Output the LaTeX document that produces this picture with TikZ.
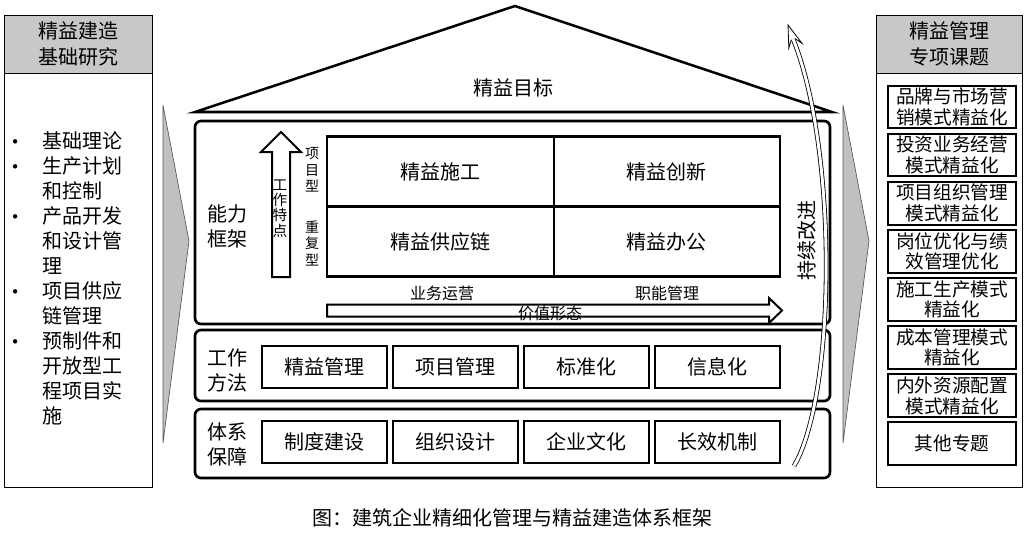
\documentclass[tikz,border=0pt]{standalone}
\usepackage{fontspec}
\setmainfont{Noto Sans CJK SC}
\usetikzlibrary{positioning,fit}
\definecolor{ink}{HTML}{000000}
\definecolor{headgray}{HTML}{C8C8C8}
\definecolor{chevgray}{HTML}{C0C0C0}
\definecolor{chevline}{HTML}{595959}
\tikzset{
  sidebox/.style={draw=ink,line width=0.6pt,minimum width=111pt,minimum height=354pt,inner sep=0pt},
  headbox/.style={draw=ink,fill=headgray,line width=0.6pt,
                  minimum width=111pt,minimum height=43.5pt,
                  align=center,font=\fontsize{15}{20}\selectfont,inner sep=0pt},
  topicbox/.style={draw=ink,line width=1.5pt,
                   minimum width=96pt,minimum height=32pt,
                   align=center,font=\fontsize{14}{15.5}\selectfont,inner sep=0pt},
  framebox/.style={draw=ink,line width=2pt,rounded corners=4.5pt,inner sep=0pt},
  cellbox/.style={draw=ink,line width=1.6pt,outer sep=0pt,
                  minimum width=170pt,minimum height=52.5pt,
                  font=\fontsize{15}{18}\selectfont},
  methodbox/.style={draw=ink,line width=1.5pt,
                    minimum width=93.75pt,minimum height=31.5pt,
                    font=\fontsize{15}{18}\selectfont},
  rowlabel/.style={align=center,font=\fontsize{15}{18.75}\selectfont,inner sep=0pt},
  smalltext/.style={font=\fontsize{12}{14}\selectfont,inner sep=0pt},
  stacktext/.style={align=center,font=\fontsize{10.5}{12.4}\selectfont,inner sep=0pt},
  blockarr/.style={draw=ink,line width=1.5pt,fill=white,line join=miter},
  chevron/.style={draw=chevline,fill=chevgray,line width=0.5pt}
}
\newcommand{\dotmark}{\raisebox{3pt}{\fontsize{8}{8}\selectfont$\bullet$}}

\begin{document}
\begin{tikzpicture}[x=0.75pt,y=-0.75pt]
  \useasboundingbox (0,0) rectangle (1027,537);

  % left column: research basis
  \node[sidebox,anchor=north] (basis) at (78,15) {};
  \node[headbox] (basishead) at (78,44) {精益建造\\基础研究};
  \node[anchor=north west,inner sep=0pt,font=\fontsize{15}{18.75}\selectfont] (basislist) at (12,130.5) {%
    \begin{tabular}{@{}p{23pt}@{}l@{}}
      \dotmark & 基础理论\\
      \dotmark & 生产计划\\
               & 和控制\\
      \dotmark & 产品开发\\
               & 和设计管\\
               & 理\\
      \dotmark & 项目供应\\
               & 链管理\\
      \dotmark & 预制件和\\
               & 开放型工\\
               & 程项目实\\
               & 施
    \end{tabular}};
  \draw[chevron] (163,105) -- (189,241) -- (163,443) -- cycle;

  % roof
  \draw[line width=1.9pt,line join=miter] (195,112) -- (515,6) -- (832,112) -- cycle;
  \node[rowlabel] (goal) at (513,88) {精益目标};

  % three floors
  \node[framebox,fit={(195,121) (830,324)}] (ability) {};
  \node[framebox,fit={(195,330) (830,401)}] (method) {};
  \node[framebox,fit={(195,409) (830,478)}] (support) {};
  \node[rowlabel] (abilitylabel) at (227,226) {能力\\框架};
  \node[rowlabel] (methodlabel) at (227,370.5) {工作\\方法};
  \node[rowlabel] (supportlabel) at (227,444.5) {体系\\保障};

  % work character arrow
  \draw[blockarr] (272,277) -- (272,152) -- (261,152) -- (281,132) -- (301,152)
                  -- (290,152) -- (290,277) -- cycle;
  \node[stacktext,font=\fontsize{11}{11.6}\selectfont] (workchar) at (280,208.5) {工\\作\\特\\点};
  \node[stacktext] (projtype) at (312,170) {项\\目\\型};
  \node[stacktext] (reptype) at (312,243) {重\\复\\型};

  % capability grid
  \node[cellbox] (construction) at (440.25,171.5) {精益施工};
  \node[cellbox,right=0pt of construction] (innovation) {精益创新};
  \node[cellbox,below=0pt of construction] (supply) {精益供应链};
  \node[cellbox,right=0pt of supply] (office) {精益办公};

  % value arrow
  \draw[blockarr] (327,304.5) -- (769,304.5) -- (769,298) -- (782,310.5) -- (769,323)
                  -- (769,316.5) -- (327,316.5) -- cycle;
  \node[smalltext] (business) at (442,293) {业务运营};
  \node[smalltext] (function) at (667,293) {职能管理};
  \node[smalltext] (valueform) at (550,313) {价值形态};

  % methods and guarantees
  \foreach \txt [count=\i] in {精益管理,项目管理,标准化,信息化}
    \node[methodbox] (method\i) at ({324.5+131*(\i-1)},367) {\txt};
  \foreach \txt [count=\i] in {制度建设,组织设计,企业文化,长效机制}
    \node[methodbox] (support\i) at ({324.5+131*(\i-1)},441.5) {\txt};

  % continuous improvement loop
  \node[rowlabel,rotate=90] (improve) at (807,240) {持续改进};
  \coordinate (tail) at (794,466);
  \coordinate (neck) at (793.1,39.1);
  \draw[line width=0.6pt,double=white,double distance=2.2pt]
    (tail) .. controls (836,395) and (838,150) .. (neck);
  \fill[white] (788,25) -- (802,43.3) -- (794.9,38.5) -- (791.3,39.7) -- (788.8,48.1) -- cycle;
  \draw[line width=0.6pt,line join=miter]
    (794.9,38.5) -- (802,43.3) -- (788,25) -- (788.8,48.1) -- (791.3,39.7);

  % right column: special topics
  \draw[chevron] (843,105) -- (869,241) -- (843,443) -- cycle;
  \node[sidebox,anchor=north,minimum width=110pt] (topics) at (949.5,15) {};
  \node[headbox,minimum width=110pt] (topichead) at (949.5,44) {精益管理\\专项课题};
  \foreach \txt [count=\i] in {{品牌与市场营\\销模式精益化},{投资业务经营\\模式精益化},
      {项目组织管理\\模式精益化},{岗位优化与绩\\效管理优化},{施工生产模式\\精益化},
      {成本管理模式\\精益化},{内外资源配置\\模式精益化},{其他专题}}
    \node[topicbox] (topic\i) at (952,{107+48.1*(\i-1)}) {\txt};

  % caption
  \node[rowlabel] (caption) at (512,518) {图：建筑企业精细化管理与精益建造体系框架};
\end{tikzpicture}
\end{document}
